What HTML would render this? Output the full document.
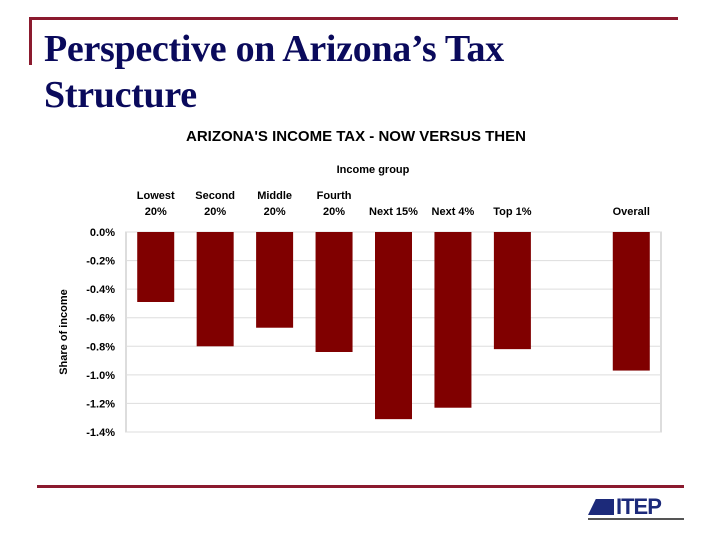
<!DOCTYPE html>
<html><head><meta charset="utf-8"><style>
body{margin:0;width:720px;height:540px;background:#fff;position:relative;overflow:hidden;font-family:"Liberation Sans",sans-serif}
.t{position:absolute;left:44px;top:26px;font:bold 38px/46px "Liberation Serif",serif;color:#0a0a5c;letter-spacing:-0.3px}
</style></head><body>
<div style="position:absolute;left:30px;top:17px;width:648px;height:3px;background:#8b1a2e"></div>
<div style="position:absolute;left:29px;top:17px;width:3px;height:48px;background:#8b1a2e"></div>
<div class="t">Perspective on Arizona’s Tax<br>Structure</div>
<div style="position:absolute;left:37px;top:485px;width:647px;height:3px;background:#8b1a2e"></div>
<div style="position:absolute;left:588px;top:497px;width:96px;height:26px">
<div style="position:absolute;left:0;top:2px;width:26px;height:16px;background:#1c2a7a;clip-path:polygon(30% 0,100% 0,100% 100%,0 100%)"></div>
<div style="position:absolute;left:28px;top:-3px;font:bold 22px 'Liberation Sans',sans-serif;color:#1c2a7a;letter-spacing:-1px">ITEP</div>
<div style="position:absolute;left:0;top:21px;width:96px;height:2px;background:#555"></div>
</div>
<svg id="c" width="720" height="540" style="position:absolute;left:0;top:0"></svg>
<script>
const categories=["Lowest|20%","Second|20%","Middle|20%","Fourth|20%","Next 15%","Next 4%","Top 1%","","Overall"];
const values=[-0.49,-0.80,-0.67,-0.84,-1.31,-1.23,-0.82,null,-0.97];
const ticks=[0,-0.2,-0.4,-0.6,-0.8,-1.0,-1.2,-1.4];
const svg=document.getElementById('c'),NS="http://www.w3.org/2000/svg";
const L=126,R=661,T=232,B=432,slot=(R-L)/categories.length;
const y=v=>T+(v/-1.4)*(B-T);
const x=i=>L+slot*(i+0.5);
function mk(tag,a,txt){const e=document.createElementNS(NS,tag);for(const k in a)e.setAttribute(k,a[k]);if(txt!=null)e.textContent=txt;svg.appendChild(e);return e;}
let e;
e=mk('rect',{x:L,y:T,width:R-L,height:B-T,fill:'#fff',stroke:'#bbb'});


ticks.forEach(t=>{
 e=mk('line',{x1:L,x2:R,y1:y(t),y2:y(t),stroke:'#ddd'});
 
 
 e=mk('text',{x:L-11,y:y(t)+4,'text-anchor':'end','font-size':11,'font-weight':'bold',fill:'#000'},t.toFixed(1)+'%');
 
 
});
categories.forEach((c,i)=>{
 const v=values[i];
 if(v!=null){
  e=mk('rect',{x:x(i)-18.5,y:T,width:37,height:y(v)-T,fill:'#800000'});
  
  
 }
 const parts=c.split('|');
 parts.forEach((p,j)=>{
  const yy=parts.length==2?(j==0?199:215):215;
  e=mk('text',{x:x(i),y:yy,'text-anchor':'middle','font-size':11,'font-weight':'bold'},p);
  
  
 });
});
e=mk('text',{x:356,y:141,'text-anchor':'middle','font-size':15,'font-weight':'bold'},"ARIZONA'S INCOME TAX - NOW VERSUS THEN");


e=mk('text',{x:373,y:173,'text-anchor':'middle','font-size':11,'font-weight':'bold'},"Income group");


e=mk('text',{x:0,y:0,'text-anchor':'middle','font-size':11,'font-weight':'bold',transform:'translate(67,332) rotate(-90)'},"Share of income");


</script>
</body></html>
